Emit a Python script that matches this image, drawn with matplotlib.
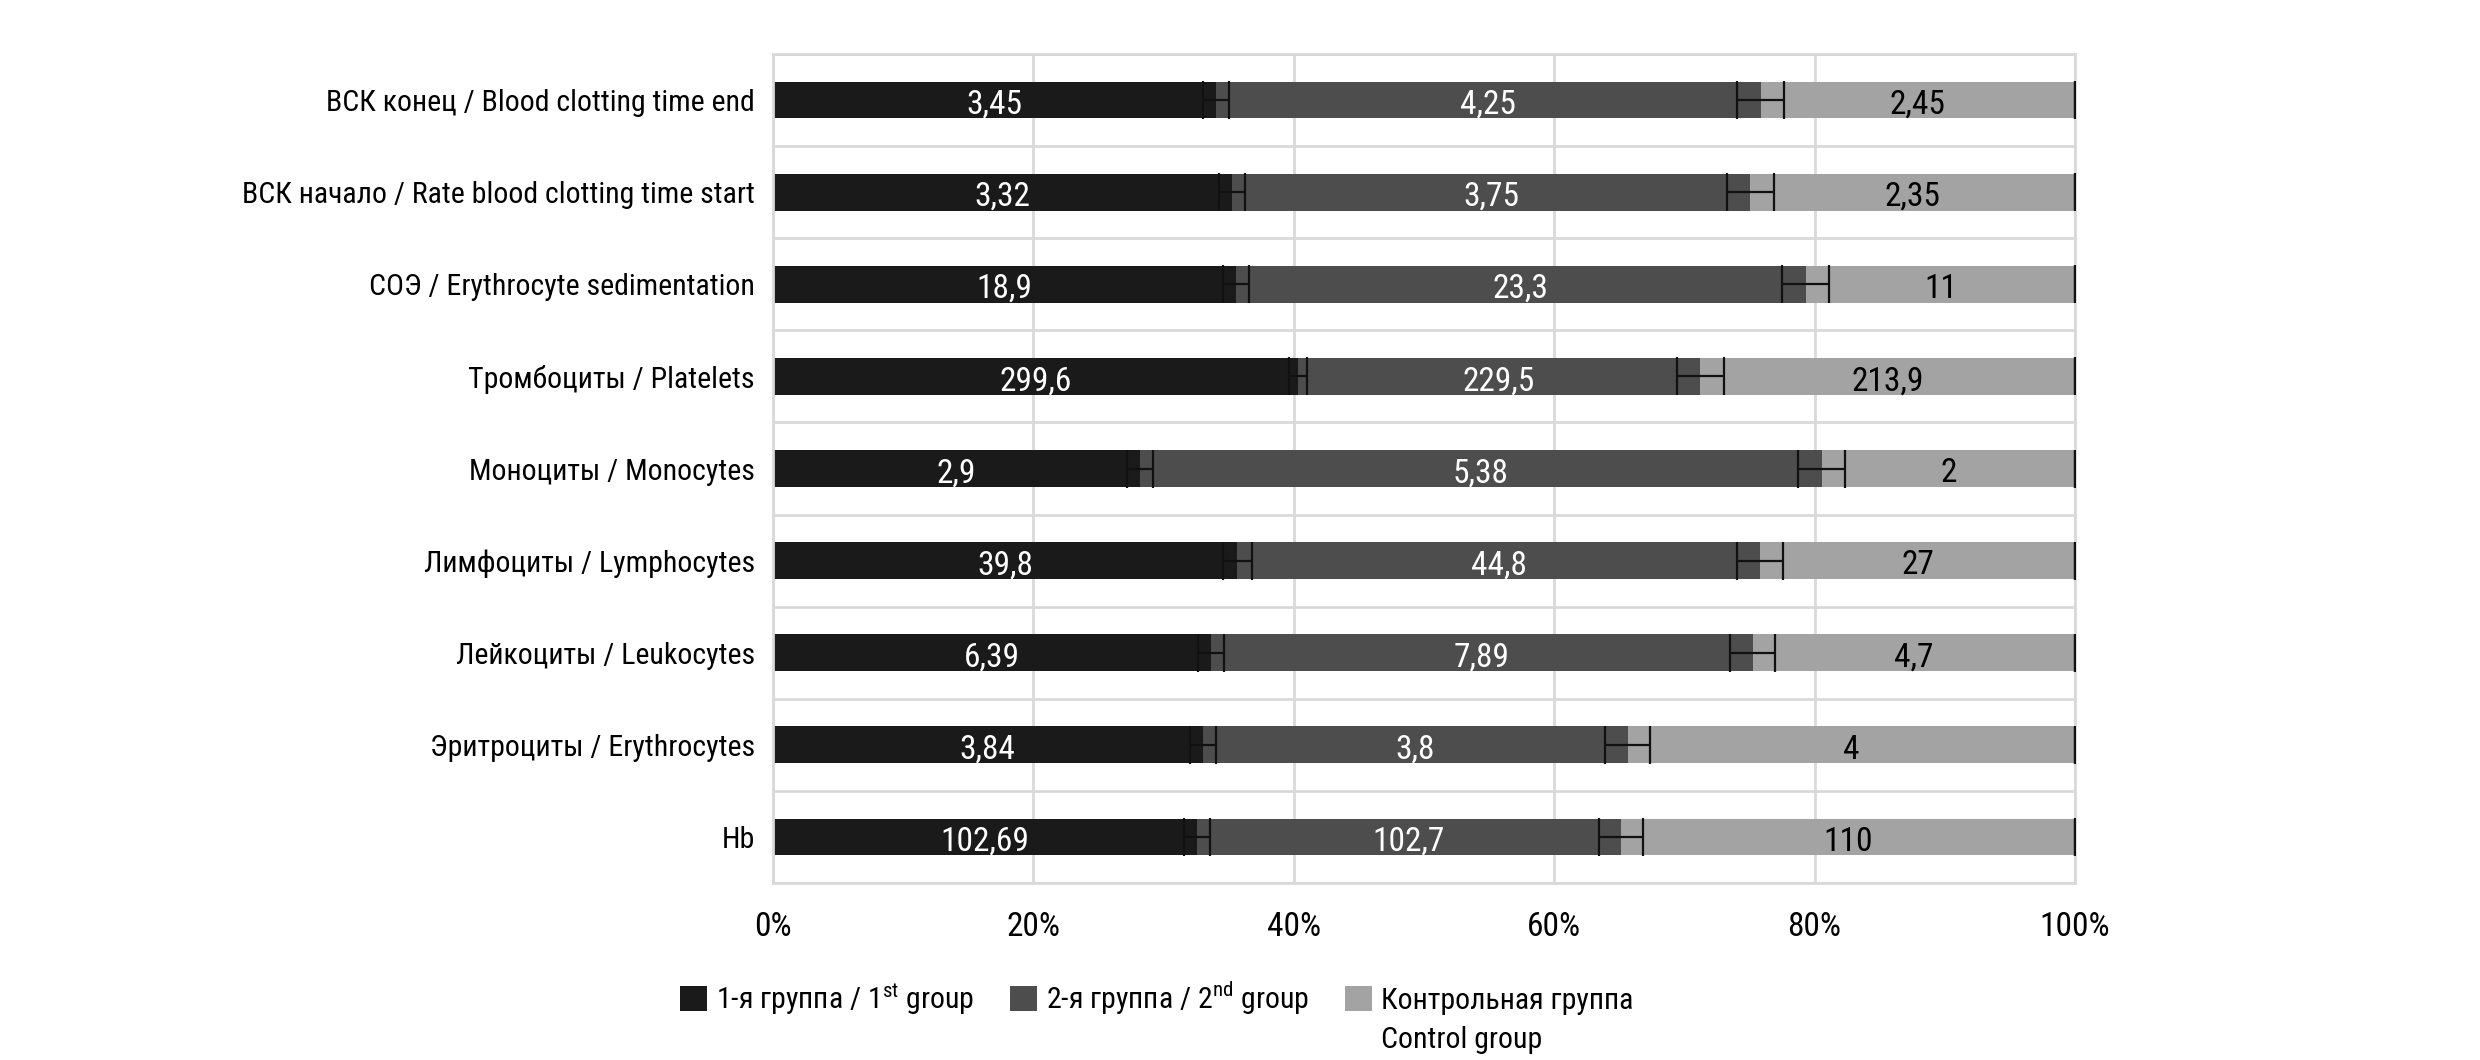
import matplotlib
matplotlib.use('Agg')
import matplotlib.pyplot as plt
from matplotlib import font_manager
import numpy as np

# ---------------- data ----------------
categories = [
    'Hb',
    'Эритроциты / Erythrocytes',
    'Лейкоциты / Leukocytes',
    'Лимфоциты / Lymphocytes',
    'Моноциты / Monocytes',
    'Тромбоциты / Platelets',
    'СОЭ / Erythrocyte sedimentation',
    'ВСК начало / Rate blood clotting time start',
    'ВСК конец / Blood clotting time end',
]
group1 = [102.69, 3.84, 6.39, 39.8, 2.9, 299.6, 18.9, 3.32, 3.45]
group2 = [102.7, 3.8, 7.89, 44.8, 5.38, 229.5, 23.3, 3.75, 4.25]
control = [110, 4, 4.7, 27, 2, 213.9, 11, 2.35, 2.45]
err1_pct = [1.0, 1.0, 1.0, 1.1, 1.0, 0.7, 1.0, 1.0, 1.0]
err2_pct = [1.7, 1.7, 1.7, 1.8, 1.8, 1.8, 1.8, 1.8, 1.8]
errc_pct = [0, 0, 0, 0, 0, 0, 0, 0, 0]
legend_labels = ['1-я группа / 1$^{\\mathregular{st}}$ group',
                 '2-я группа / 2$^{\\mathregular{nd}}$ group',
                 'Контрольная группа']
legend_second_line = 'Control group'
xticks = [0, 20, 40, 60, 80, 100]
xtick_labels = ['0%', '20%', '40%', '60%', '80%', '100%']

# ---------------- style ----------------
names = {f.name for f in font_manager.fontManager.ttflist}
fam = 'Liberation Sans'
for cand in ('Roboto Condensed', 'PT Sans Narrow', 'Liberation Sans Narrow'):
    if cand in names:
        fam = cand
        break
narrow = fam != 'Liberation Sans'
plt.rcParams['font.family'] = [fam, 'DejaVu Sans']
plt.rcParams['mathtext.fontset'] = 'custom'
plt.rcParams['mathtext.rm'] = fam

c1, c2, c3 = '#1a1a1a', '#4d4d4d', '#a3a3a3'
grid_c = '#d9d9d9'
fs_val = 24 if narrow else 20
fs_tick = 24 if narrow else 20
fs_cat = 21.5 if narrow else 19
fs_leg = 21.5 if narrow else 18.5

g1 = np.array(group1, float)
g2 = np.array(group2, float)
gc = np.array(control, float)
tot = g1 + g2 + gc
p1 = g1 / tot * 100
p2 = g2 / tot * 100
p3 = gc / tot * 100
y = np.arange(len(categories))

fig = plt.figure(figsize=(24.8, 10.6), dpi=100)
ax = fig.add_axes([773 / 2480, 1 - 883 / 1060, (2075 - 773) / 2480, (883 - 54) / 1060])

bh = 0.4
b1 = ax.barh(y, p1, height=bh, color=c1, zorder=2)
b2 = ax.barh(y, p2, left=p1, height=bh, color=c2, zorder=2)
b3 = ax.barh(y, p3, left=p1 + p2, height=bh, color=c3, zorder=2)

ekw = dict(fmt='none', ecolor='#111111', elinewidth=1.6, capsize=13.5, capthick=1.6, zorder=4)
ax.errorbar(p1, y, xerr=err1_pct, **ekw)
ax.errorbar(p1 + p2, y, xerr=err2_pct, **ekw)
ax.errorbar(p1 + p2 + p3, y, xerr=errc_pct, **ekw)

def fmt(v):
    return f'{v:g}'.replace('.', ',')

for i in range(len(categories)):
    ax.annotate(fmt(g1[i]), (p1[i] / 2, y[i]), xytext=(0, -3.5), textcoords='offset points',
                ha='center', va='center', color='white', fontsize=fs_val, zorder=5)
    ax.annotate(fmt(g2[i]), (p1[i] + p2[i] / 2, y[i]), xytext=(0, -3.5), textcoords='offset points',
                ha='center', va='center', color='white', fontsize=fs_val, zorder=5)
    ax.annotate(fmt(gc[i]), (p1[i] + p2[i] + p3[i] / 2, y[i]), xytext=(0, -3.5), textcoords='offset points',
                ha='center', va='center', color='black', fontsize=fs_val, zorder=5)

ax.set_xlim(0, 100)
ax.set_ylim(-0.5, len(categories) - 0.5)
ax.set_xticks(xticks)
ax.set_xticklabels(xtick_labels, fontsize=fs_tick)
ax.set_yticks(y)
ax.set_yticklabels(categories, fontsize=fs_cat)
ax.set_yticks(np.arange(-0.5, len(categories)), minor=True)
ax.tick_params(axis='both', which='both', length=0)
ax.tick_params(axis='x', pad=20)
ax.tick_params(axis='y', pad=13)
ax.grid(axis='x', which='major', color=grid_c, linewidth=2.0, zorder=0)
ax.grid(axis='y', which='minor', color=grid_c, linewidth=2.0, zorder=0)
ax.grid(axis='y', which='major', visible=False)
for s in ax.spines.values():
    s.set_color(grid_c)
    s.set_linewidth(2.0)
ax.set_axisbelow(True)

leg = fig.legend([b1, b2, b3], legend_labels, loc='center left',
                 bbox_to_anchor=(680 / 2480, 1 - 998 / 1060), ncol=3, frameon=False,
                 fontsize=fs_leg, handlelength=0.9, handleheight=0.9, handletextpad=0.3,
                 columnspacing=1.2, borderpad=0, borderaxespad=0)

fig.canvas.draw()
r = fig.canvas.get_renderer()
t3 = leg.get_texts()[2]
bb = t3.get_window_extent(r)
x0 = bb.x0 / fig.bbox.width
fig.text(x0, 1 - 1040 / 1060, legend_second_line, fontsize=fs_leg, ha='left', va='center')

fig.savefig('out.png', dpi=100)
